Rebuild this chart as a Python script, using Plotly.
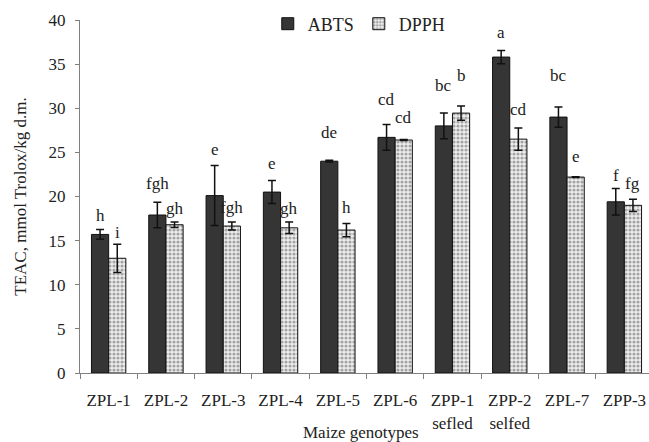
import plotly.graph_objects as go

categories = ["ZPL-1", "ZPL-2", "ZPL-3", "ZPL-4", "ZPL-5", "ZPL-6",
              "ZPP-1<br>sefled", "ZPP-2<br>selfed", "ZPL-7", "ZPP-3"]
abts = [15.7, 17.9, 20.1, 20.5, 24.0, 26.7, 28.0, 35.8, 29.0, 19.4]
abts_err = [0.55, 1.45, 3.4, 1.3, 0.1, 1.45, 1.45, 0.75, 1.15, 1.5]
dpph = [13.0, 16.8, 16.65, 16.45, 16.2, 26.4, 29.45, 26.5, 22.2, 19.0]
dpph_err = [1.6, 0.3, 0.45, 0.65, 0.75, 0.05, 0.8, 1.25, 0.05, 0.7]
abts_letters = ["h", "fgh", "e", "e", "de", "cd", "bc", "a", "bc", "f"]
dpph_letters = ["i", "gh", "fgh", "gh", "h", "cd", "b", "cd", "e", "fg"]
abts_letter_y = [17.9, 21.5, 25.3, 23.7, 27.3, 31.0, 32.6, 38.6, 33.7, 22.4]
dpph_letter_y = [15.9, 18.6, 18.7, 18.6, 18.7, 28.9, 33.7, 29.9, 24.5, 21.5]

FONT = "Liberation Serif"
TXT = "#222222"

W, H = 649, 442
ML, MR, MT, MB = 80, 0, 20, 69
pw = W - ML - MR
ph = H - MT - MB

fig = go.Figure()
fig.add_trace(go.Bar(
    name="ABTS", x=categories, y=abts,
    marker=dict(color="#353535", line=dict(color="#111111", width=1)),
    error_y=dict(type="data", array=abts_err, color="#111111", thickness=1.5, width=4),
))
fig.add_trace(go.Bar(
    name="DPPH", x=categories, y=dpph,
    marker=dict(color="#ffffff", line=dict(color="#111111", width=1),
                pattern=dict(shape=".", fgcolor="#5a5a5a", bgcolor="#eeeeee",
                             size=4, solidity=0.5)),
    error_y=dict(type="data", array=dpph_err, color="#111111", thickness=1.5, width=4),
))

annotations = []
for i, c in enumerate(categories):
    annotations.append(dict(x=c, y=abts_letter_y[i], text=abts_letters[i], xref="x", yref="y",
                            showarrow=False, xshift=-8.6, font=dict(family=FONT, size=17, color=TXT)))
    annotations.append(dict(x=c, y=dpph_letter_y[i], text=dpph_letters[i], xref="x", yref="y",
                            showarrow=False, xshift=8.6, font=dict(family=FONT, size=17, color=TXT)))
annotations.append(dict(x=(361 - ML) / pw, y=(H - MB - 432) / ph, xref="paper", yref="paper",
                        text="Maize genotypes", showarrow=False, yanchor="middle",
                        font=dict(family=FONT, size=17, color=TXT)))

fig.update_layout(
    width=W, height=H,
    margin=dict(l=ML, r=MR, t=MT, b=MB, autoexpand=False),
    paper_bgcolor="white", plot_bgcolor="white",
    barmode="group", bargap=0.4, bargroupgap=0,
    font=dict(family=FONT, size=17, color=TXT),
    showlegend=True,
    legend=dict(orientation="h", x=0.33, y=1 - 4 / ph, xanchor="left", yanchor="middle",
                font=dict(family=FONT, size=18, color=TXT), bgcolor="rgba(0,0,0,0)",
                itemwidth=30),
    xaxis=dict(range=[-0.5, 9.43], showline=True, linecolor="#808080", linewidth=1,
               ticks="outside", tickson="boundaries", ticklen=5, tickcolor="#808080",
               ticklabelstandoff=12, automargin=False,
               tickfont=dict(family=FONT, size=17, color=TXT), showgrid=False),
    yaxis=dict(range=[0, 40], dtick=5, showline=True, linecolor="#808080", linewidth=1,
               ticks="outside", ticklen=4, tickcolor="#808080", showgrid=False, zeroline=False,
               ticklabelstandoff=6, automargin=False,
               tickfont=dict(family=FONT, size=17, color=TXT),
               title=dict(text="TEAC, mmol Trolox/kg d.m.", standoff=17,
                          font=dict(family=FONT, size=17, color=TXT))),
    annotations=annotations,
)

fig.write_html("out.html", config={"displayModeBar": False},
               post_script="document.body.style.margin='0px';document.body.style.overflow='hidden';")
